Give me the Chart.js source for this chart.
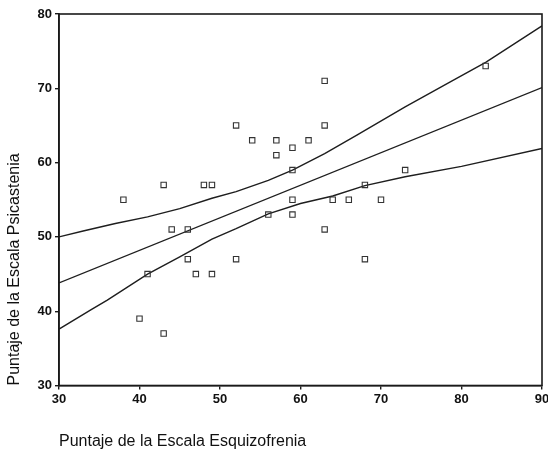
<!DOCTYPE html>
<html><head><meta charset="utf-8">
<script src="https://cdn.jsdelivr.net/npm/chart.js@4/dist/chart.umd.min.js"></script>
<style>html,body{margin:0;padding:0;background:#fff}#wrap{width:548px;height:451px}</style>
</head><body><div id="wrap"><canvas id="c" width="548" height="451"></canvas></div>
<script>
const xTitle = 'Puntaje de la Escala Esquizofrenia';
const yTitle = 'Puntaje de la Escala Psicastenia';
const xTicks = [30, 40, 50, 60, 70, 80, 90];
const yTicks = [30, 40, 50, 60, 70, 80];

// observed scores
const esquizofrenia = [38, 40, 41, 43, 43, 44, 46, 46, 47, 48, 49, 49, 52, 52, 54, 56, 57, 57, 59, 59, 59, 59, 61, 63, 63, 63, 64, 66, 68, 68, 70, 73, 83];
const psicastenia   = [55, 39, 45, 57, 37, 51, 51, 47, 45, 57, 57, 45, 65, 47, 63, 53, 63, 61, 62, 59, 55, 53, 63, 71, 65, 51, 55, 55, 57, 47, 55, 59, 73];

// fitted line
const fitX = [30, 90];
const fitY = [43.8, 70.1];

// upper confidence curve
const upperX = [30, 33, 37, 41, 45, 49, 52, 56, 59, 63, 67, 73, 79, 83, 90];
const upperY = [50.0, 50.8, 51.8, 52.7, 53.8, 55.2, 56.1, 57.6, 59.0, 61.2, 63.7, 67.5, 71.1, 73.5, 78.4];

// lower confidence curve
const lowerX = [30, 34, 36, 41, 45, 49, 52, 56, 60, 64, 68, 73, 80, 90];
const lowerY = [37.6, 40.2, 41.5, 45.0, 47.3, 49.7, 51.1, 53.1, 54.5, 55.5, 56.9, 58.1, 59.5, 61.9];

const pts = (xs, ys) => xs.map((x, i) => ({x: x, y: ys[i]}));

const boxPlugin = {
  id: 'box',
  afterDraw(chart) {
    const a = chart.chartArea, ctx = chart.ctx;
    ctx.save();
    ctx.strokeStyle = '#1a1a1a';
    ctx.lineWidth = 1.6;
    ctx.strokeRect(a.left, a.top, a.right - a.left, a.bottom - a.top);
    ctx.restore();
  }
};

const lineStyle = {type: 'line', showLine: true, pointRadius: 0, borderColor: '#1e1e1e', borderWidth: 1.4, tension: 0, fill: false, order: 2};

new Chart(document.getElementById('c'), {
  type: 'scatter',
  data: {
    datasets: [
      {data: pts(esquizofrenia, psicastenia), pointStyle: 'rect', pointRadius: 3.8, borderColor: '#333', borderWidth: 1.1, backgroundColor: 'rgba(0,0,0,0)', order: 1},
      Object.assign({data: pts(fitX, fitY)}, lineStyle),
      Object.assign({data: pts(upperX, upperY)}, lineStyle),
      Object.assign({data: pts(lowerX, lowerY)}, lineStyle)
    ]
  },
  options: {
    responsive: false,
    animation: false,
    devicePixelRatio: 1,
    layout: {padding: {left: 0, right: 6, top: 14, bottom: 0}},
    plugins: {legend: {display: false}, tooltip: {enabled: false}},
    scales: {
      x: {
        type: 'linear', position: 'bottom', min: 30, max: 90,
        afterBuildTicks: s => { s.ticks = xTicks.map(v => ({value: v})); },
        afterFit: s => { s.height = 65.5; s.paddingLeft = 0; s.paddingRight = 0; },
        ticks: {color: '#111', font: {family: 'Liberation Sans', size: 13, weight: 'bold'}, padding: 2, maxRotation: 0},
        grid: {drawOnChartArea: false, tickLength: 4, color: '#1a1a1a', lineWidth: 1.4},
        border: {color: '#1a1a1a', width: 1.6},
        title: {display: true, text: xTitle, align: 'start', color: '#111', font: {family: 'Liberation Sans', size: 16}, padding: {top: 0, bottom: 0}}
      },
      y: {
        type: 'linear', position: 'left', min: 30, max: 80,
        afterBuildTicks: s => { s.ticks = yTicks.map(v => ({value: v})); },
        afterFit: s => { s.width = 59; s.paddingTop = 0; s.paddingBottom = 0; },
        ticks: {color: '#111', font: {family: 'Liberation Sans', size: 13, weight: 'bold'}, padding: 3},
        grid: {drawOnChartArea: false, tickLength: 4, color: '#1a1a1a', lineWidth: 1.4},
        border: {color: '#1a1a1a', width: 1.6},
        title: {display: true, text: yTitle, align: 'start', color: '#111', font: {family: 'Liberation Sans', size: 16}, padding: {top: 5, bottom: 0}}
      }
    }
  },
  plugins: [boxPlugin]
});
</script>
</body></html>
